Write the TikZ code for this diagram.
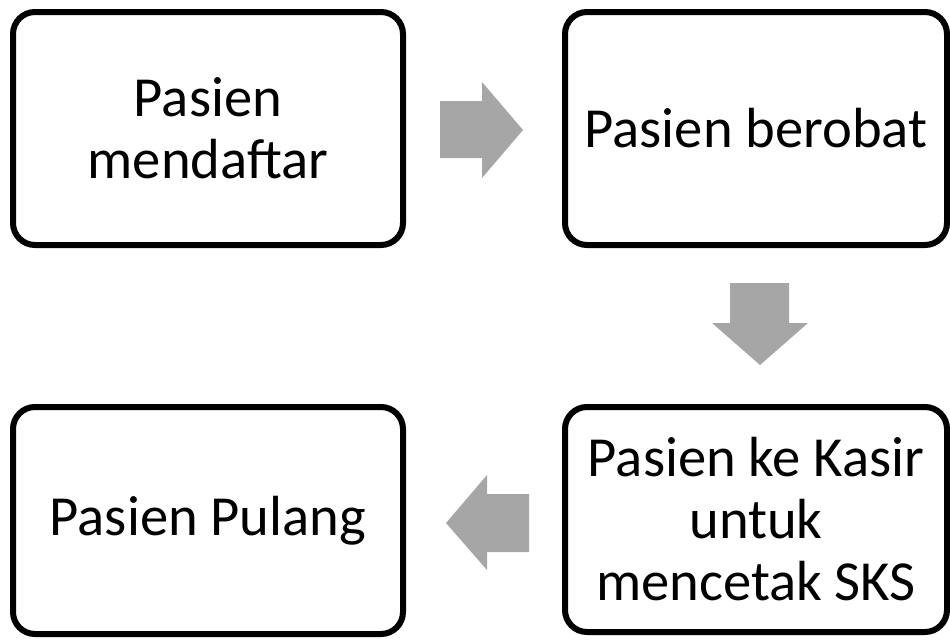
\documentclass[tikz,border=0pt]{standalone}
\usepackage{fontspec}
\setmainfont{Carlito}
\begin{document}
\begin{tikzpicture}[x=1pt,y=-1pt,
  stepbox/.style={draw=black,line width=6pt,rounded corners=22pt,align=center,inner sep=0pt,
    font=\fontsize{56.6}{62}\selectfont},
  blockarrow/.style={fill=black!35,draw=none}]
\useasboundingbox (0,0) rectangle (950,640);
\node[stepbox,minimum width=390pt,minimum height=233pt] (a) at (208,128.5) {Pasien\\mendaftar};
\node[stepbox,minimum width=382pt,minimum height=233pt] (b) at (756,128.5) {Pasien berobat};
\node[stepbox,minimum width=382pt,minimum height=225pt] (c) at (756,519.5) {Pasien ke Kasir\\untuk\\mencetak SKS};
\node[stepbox,minimum width=390pt,minimum height=227pt] (d) at (208,520.5) {Pasien Pulang};
% right arrow a -> b
\fill[blockarrow] (440,101) -- (482,101) -- (482,82) -- (523,130) -- (482,178) -- (482,158) -- (440,158) -- cycle;
% down arrow b -> c
\fill[blockarrow] (730,283) -- (789,283) -- (789,323) -- (808,323) -- (760,365) -- (712,323) -- (730,323) -- cycle;
% left arrow c -> d
\fill[blockarrow] (529,494) -- (487,494) -- (487,475) -- (446,523) -- (487,570) -- (487,552) -- (529,552) -- cycle;
\end{tikzpicture}
\end{document}
